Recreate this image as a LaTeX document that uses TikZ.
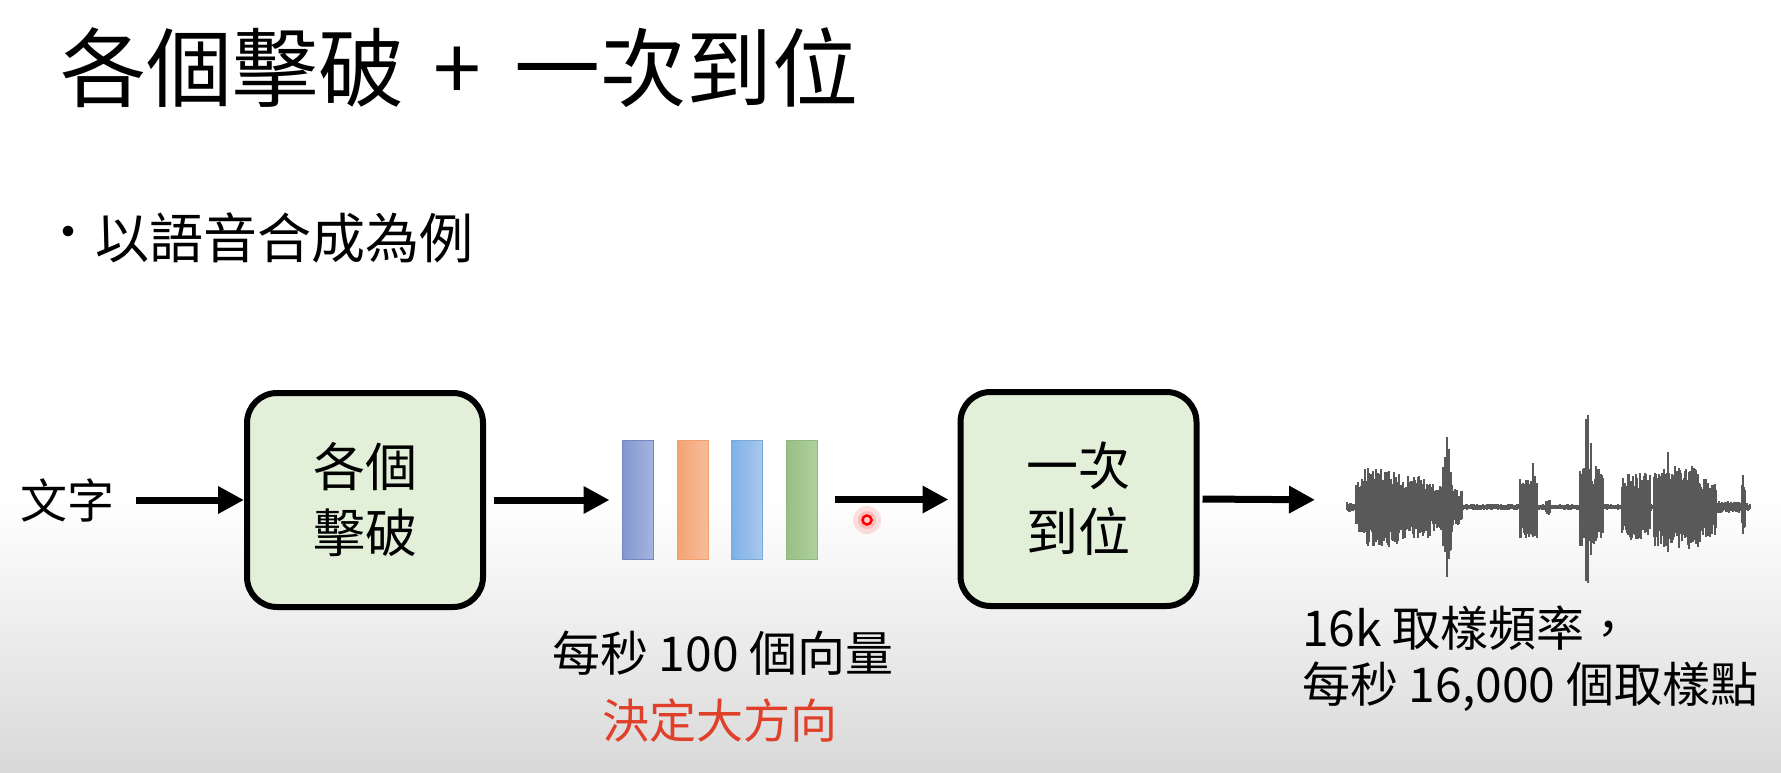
\documentclass[tikz,border=0pt]{standalone}
\usepackage{fontspec}
\setmainfont{Noto Sans CJK TC}
\newfontfamily\twfont{Noto Sans CJK TC}[Script=CJK,Language=Chinese Traditional]
\usetikzlibrary{arrows.meta}
\definecolor{boxfill}{HTML}{E2EFD9}
\definecolor{wavec}{HTML}{595959}
\definecolor{redtxt}{HTML}{E0402A}
\definecolor{b1d}{HTML}{7289C4}\definecolor{b1l}{HTML}{7F96CF}\definecolor{b1r}{HTML}{A6B4DE}
\definecolor{b2d}{HTML}{EEA070}\definecolor{b2l}{HTML}{F4A275}\definecolor{b2r}{HTML}{F7BC98}
\definecolor{b3d}{HTML}{7BA8DC}\definecolor{b3l}{HTML}{7FB0E6}\definecolor{b3r}{HTML}{A9C9EC}
\definecolor{b4d}{HTML}{90B97C}\definecolor{b4l}{HTML}{98C084}\definecolor{b4r}{HTML}{B0D09F}
\tikzset{
  fs/.style={font=\fontsize{#1}{#1}\selectfont},
  stage/.style={draw=black, line width=6pt, fill=boxfill, rounded corners=30pt, minimum width=236pt, minimum height=214pt, align=center, font=\fontsize{52}{66}\selectfont},
  flow/.style={line width=7pt, -{Triangle[length=26pt,width=26pt]}},
  bar/.style={minimum width=31pt, minimum height=119pt, inner sep=0pt, line width=1pt},
  wave/.style={draw=wavec, line width=1.3pt},
}
\begin{document}
\begin{tikzpicture}[x=1pt,y=-1pt]
\useasboundingbox (0,0) rectangle (1781,772);
% background
\fill[white] (0,0) rectangle (1781,772);
\shade[top color=white, bottom color=black!15] (0,500) rectangle (1781,772);
% title and bullet
\node[fs=86, anchor=west, inner sep=0] (title) at (60,68) {各個擊破\hspace{29pt}+\hspace{34pt}一次到位};
\node[fs=50, inner sep=0] (dot) at (68,238) {•};
\node[fs=54, anchor=west, inner sep=0] (bullet) at (95,238) {以語音合成為例};
% pipeline
\node[fs=47, anchor=west, inner sep=0] (txt) at (20,500) {文字};
\node[stage] (b1) at (365,500) {各個\\擊破};
\node[stage] (b2) at (1078.5,499) {一次\\到位};
\node[bar, draw=b1d, left color=b1l, right color=b1r] (v1) at (637.5,499.5) {};
\node[bar, draw=b2d, left color=b2l, right color=b2r] (v2) at (692.5,499.5) {};
\node[bar, draw=b3d, left color=b3l, right color=b3r] (v3) at (747,499.5) {};
\node[bar, draw=b4d, left color=b4l, right color=b4r] (v4) at (802,499.5) {};
\coordinate (w) at (1347,500);
\draw[flow, shorten <=22pt] (txt.east) -- (b1.west);
\draw[flow, shorten <=8pt, shorten >=12pt] (b1.east) -- (v1.west |- b1.east);
\draw[flow, shorten <=17pt, shorten >=9pt] (v4.east) -- (b2.west |- v4.east);
\draw[flow, shorten <=3pt, shorten >=32pt] (b2.east) -- (w);
% waveform
\pgfmathsetseed{7}
\draw[wavec, line width=2.5pt] (1347,507) -- (1750,507);
\foreach \a/\b/\h in {1347/1355/5, 1356/1364/28, 1365/1400/40, 1401/1430/33, 1431/1442/24, 1443/1452/44, 1453/1462/18, 1463/1519/3, 1520/1537/32, 1538/1545/3, 1546/1550/10, 1551/1579/3, 1580/1603/42, 1604/1621/3, 1622/1650/34, 1651/1653/4, 1654/1700/42, 1701/1716/30, 1717/1741/6, 1742/1745/26, 1746/1750/4}{
  \pgfmathtruncatemacro\aa{\a+1}
  \foreach \x in {\a,\aa,...,\b}{
    \pgfmathsetmacro\u{\h*(0.5+0.5*rnd)}
    \pgfmathsetmacro\d{\h*(0.5+0.5*rnd)}
    \draw[wave] (\x,507-\u) -- (\x,507+\d);
  }
}
\foreach \x/\u/\d in {1445/50/45, 1447/70/70, 1449/58/52, 1533/44/30, 1586/88/74, 1588/92/76, 1591/64/48, 1668/55/45, 1743/32/27}{
  \draw[wave] (\x,507-\u) -- (\x,507+\d);
}
% laser pointer
\fill[red, opacity=0.12] (867,520) circle (14);
\fill[red, opacity=0.15] (867,520) circle (9);
\draw[red, line width=2.5pt, fill=red!20] (867,520) circle (4.5);
% captions
\node[fs=48, inner sep=0] (c1) at (723,653) {每秒 100 個向量};
\node[fs=47, inner sep=0, text=redtxt] (c2) at (720,721) {決定大方向};
\node[fs=48, anchor=west, inner sep=0] (c3) at (1302,628) {\twfont 16k 取樣頻率，};
\node[fs=48, anchor=west, inner sep=0] (c4) at (1302,687) {每秒 16,000 個取樣點};
\end{tikzpicture}
\end{document}
